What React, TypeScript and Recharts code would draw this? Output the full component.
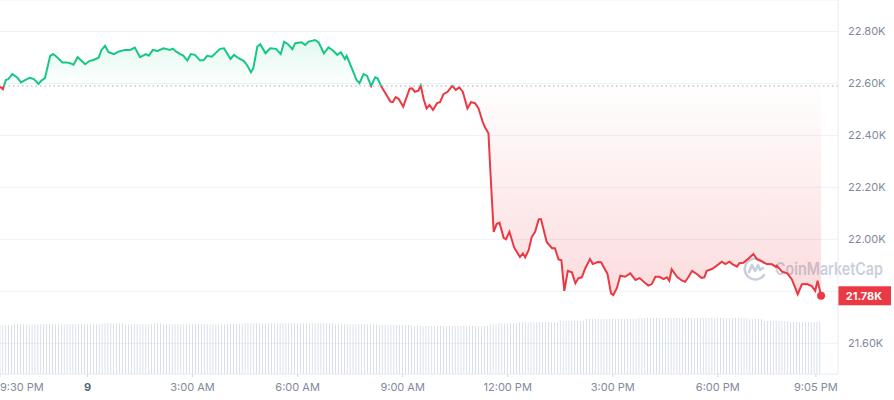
import React from 'react';
import { ComposedChart, Area, Bar, XAxis, YAxis, CartesianGrid, ReferenceLine, ReferenceDot } from 'recharts';

const GREEN = '#16c784';
const RED = '#ea3943';
const TEXT = '#808a9d';
const OPEN_PRICE = 22590;

// minutes after 9:30 PM (previous day)
const PRICE_TIMES = [
  0, 5, 10, 14, 21, 29, 36, 43, 51, 58, 66, 71, 77, 86, 91, 98, 107, 114, 120, 126,
  133, 136, 146, 153, 160, 169, 174, 180, 186, 195, 203, 214, 223, 231, 240, 250, 255, 262, 270, 280,
  286, 291, 296, 302, 309, 314, 321, 327, 334, 343, 349, 355, 363, 377, 384, 395, 401, 409, 418, 424,
  430, 434, 441, 446, 455, 463, 473, 481, 487, 493, 501, 506, 517, 523, 529, 540, 546, 555, 563, 571,
  578, 584, 591, 594, 603, 611, 616, 623, 629, 636, 643, 647, 654, 660, 669, 673, 678, 683, 691, 702,
  706, 711, 717, 721, 726, 731, 736, 742, 749, 754, 760, 767, 775, 781, 787, 793, 801, 807, 814, 820,
  827, 831, 837, 842, 846, 851, 856, 863, 867, 873, 881, 891, 896, 900, 906, 911, 917, 923, 927, 931,
  937, 946, 951, 957, 962, 967, 973, 980, 986, 991, 997, 1003, 1011, 1016, 1024, 1030, 1041, 1047, 1051, 1057,
  1063, 1071, 1080, 1089, 1096, 1103, 1111, 1117, 1123, 1130, 1137, 1143, 1147, 1151, 1160, 1169, 1174, 1180, 1186, 1194,
  1202, 1207, 1211, 1220, 1226, 1237, 1243, 1250, 1255, 1263, 1267, 1274, 1281, 1291, 1297, 1306, 1314, 1323, 1329, 1331,
  1340, 1349, 1357, 1367, 1374, 1383, 1391, 1397, 1401, 1407,
];

const PRICES = [
  22588, 22578, 22613, 22616, 22636, 22624, 22604, 22613, 22622, 22617, 22598, 22611, 22620, 22706, 22713, 22701, 22681, 22681, 22678, 22672,
  22701, 22695, 22674, 22686, 22690, 22699, 22729, 22745, 22720, 22713, 22722, 22729, 22729, 22738, 22701, 22713, 22707, 22729, 22725, 22735,
  22732, 22729, 22734, 22722, 22713, 22707, 22688, 22713, 22710, 22688, 22690, 22706, 22703, 22733, 22735, 22694, 22710, 22697, 22686, 22668,
  22643, 22658, 22742, 22751, 22716, 22735, 22733, 22713, 22760, 22752, 22732, 22755, 22758, 22748, 22761, 22767, 22758, 22716, 22739, 22726,
  22710, 22720, 22694, 22706, 22658, 22613, 22601, 22636, 22629, 22590, 22624, 22620, 22586, 22564, 22530, 22528, 22547, 22541, 22511, 22580,
  22581, 22568, 22572, 22592, 22539, 22504, 22517, 22498, 22524, 22528, 22559, 22568, 22591, 22575, 22585, 22568, 22504, 22528, 22524, 22504,
  22453, 22431, 22408, 22190, 22029, 22059, 22064, 22006, 22000, 22029, 21969, 21932, 21946, 21931, 21959, 22008, 22029, 22077, 22078, 22042,
  21989, 21966, 21966, 21923, 21920, 21802, 21879, 21873, 21831, 21850, 21854, 21889, 21924, 21905, 21913, 21912, 21867, 21792, 21786, 21812,
  21860, 21856, 21869, 21844, 21851, 21837, 21822, 21828, 21856, 21856, 21847, 21854, 21841, 21885, 21856, 21841, 21837, 21856, 21879, 21867,
  21852, 21854, 21879, 21886, 21895, 21914, 21905, 21914, 21905, 21895, 21908, 21910, 21923, 21944, 21924, 21914, 21905, 21904, 21895, 21899,
  21876, 21869, 21846, 21789, 21827, 21828, 21820, 21802, 21841, 21783,
];

// one bar every 5 minutes, one row per hour
const VOLUME_STEP = 5;
const VOLUMES = [
  48.7, 48.7, 48.7, 48.7, 48.7, 49.7, 49.7, 49.7, 49.7, 49.7, 49.7, 49.7,
  49.7, 49.7, 49.7, 49.7, 49.7, 49.7, 49.7, 49.7, 49.7, 49.7, 49.7, 49.7,
  49.7, 49.7, 49.7, 49.7, 49.7, 49.7, 49.7, 49.7, 49.7, 49.7, 49.7, 50.7,
  50.7, 50.7, 50.7, 50.7, 50.7, 50.7, 50.7, 49.7, 49.7, 49.7, 49.7, 49.7,
  49.7, 49.7, 49.7, 49.7, 49.7, 50.7, 50.7, 50.7, 49.7, 49.7, 49.7, 49.7,
  49.7, 49.7, 49.7, 49.7, 49.7, 49.7, 49.7, 49.7, 49.7, 49.7, 49.7, 49.7,
  49.7, 49.7, 49.7, 49.7, 49.7, 49.7, 49.7, 50.3, 50.3, 50.3, 50.3, 50.3,
  50.7, 50.7, 50.7, 50.7, 50.7, 50.7, 50.7, 50.7, 50.7, 50.7, 50.7, 50.7,
  50.7, 50.7, 50.7, 50.7, 50.7, 50.7, 50.7, 50.7, 50.7, 50.7, 50.7, 50.7,
  50.7, 50.7, 50.7, 50.7, 50.7, 50.7, 50.7, 49.7, 49.7, 49.7, 49.7, 49.7,
  49.7, 49.7, 49.7, 49.7, 49.7, 49.7, 49.7, 49.7, 49.7, 49.7, 49, 49,
  49, 49, 49, 49, 49, 49, 49, 49, 49, 49, 48, 48,
  48, 48, 48, 48, 48, 48, 48, 48, 48, 48, 48, 48,
  48, 48, 48, 48, 48, 48, 48, 48, 48, 48, 48, 48,
  49.7, 49.7, 49.7, 50.7, 50.7, 50.7, 50.7, 50.7, 50.7, 50.7, 51.7, 51.7,
  51.7, 51.7, 51.7, 51.7, 51.7, 51.7, 51.7, 51.7, 51.7, 51.7, 51.7, 51.7,
  53.3, 53.3, 53.3, 53.3, 53.3, 53.3, 53.3, 53.3, 53.3, 55, 55, 55,
  55, 55, 55, 55, 55, 55, 55, 55, 55, 55, 55, 55,
  55, 55, 55, 56, 56, 56, 56, 56, 56, 56, 56, 56,
  56, 56, 56, 56, 56, 56, 56, 56, 56, 56, 56, 56,
  56, 56, 56, 56, 56, 56, 56, 56, 56, 56, 56, 56,
  56, 56, 56, 56, 56, 55, 55, 55, 55, 55, 53, 53,
  53, 53, 53, 53, 53, 53, 53, 52, 52, 52, 52, 52,
  52, 52, 52, 52, 52, 52,
];
const VOLUME_AXIS_MAX = 374;

const X_TICKS = [0, 150, 330, 510, 690, 870, 1050, 1230, 1398];
const X_LABELS = ['9:30 PM', '9', '3:00 AM', '6:00 AM', '9:00 AM', '12:00 PM', '3:00 PM', '6:00 PM', '9:05 PM'];
const Y_TICKS = [21600, 21800, 22000, 22200, 22400, 22600, 22800];
const X_DOMAIN = [0, 1436];
const Y_DOMAIN = [21482, 22921];

const LAST_T = PRICE_TIMES[PRICE_TIMES.length - 1];
const LAST_PRICE = PRICES[PRICES.length - 1];

const buildData = () => {
  const map = new Map<number, { t: number; price?: number; volume?: number }>();
  VOLUMES.forEach((v, i) => {
    const t = i * VOLUME_STEP;
    map.set(t, { t, volume: v });
  });
  PRICE_TIMES.forEach((t, i) => {
    const row = map.get(t) || { t };
    row.price = PRICES[i];
    map.set(t, row);
  });
  return Array.from(map.values()).sort((a, b) => a.t - b.t);
};

const data = buildData();
const fmtK = (v: number) => `${(v / 1000).toFixed(2)}K`;
const split = (Y_DOMAIN[1] - OPEN_PRICE) / (Y_DOMAIN[1] - Y_DOMAIN[0]);

const XTick = (props: any) => {
  const { x, y, payload } = props;
  const i = X_TICKS.indexOf(payload.value);
  const bold = X_LABELS[i] === '9';
  return (
    <text
      x={x}
      y={y}
      dy="0.71em"
      textAnchor={i === 0 ? 'start' : 'middle'}
      fill={bold ? '#58667e' : TEXT}
      fontSize={11}
      fontWeight={bold ? 700 : 400}
    >
      {X_LABELS[i]}
    </text>
  );
};

// the price tag covers the axis label next to the last price
const YTick = (props: any) => {
  const { x, y, payload } = props;
  if (Math.abs(payload.value - LAST_PRICE) < 60) return <g />;
  return (
    <text x={x} y={y} dy="0.355em" textAnchor="start" fill={TEXT} fontSize={11}>
      {fmtK(payload.value)}
    </text>
  );
};

const PriceTag = (props: any) => {
  const { viewBox } = props;
  const x = viewBox.x + viewBox.width;
  const y = viewBox.y;
  return (
    <g>
      <rect x={x} y={y - 9.5} width={53} height={19} fill={RED} />
      <text x={x + 26} y={y + 4} textAnchor="middle" fill="#fff" fontSize={11} fontWeight={700}>
        {fmtK(LAST_PRICE)}
      </text>
    </g>
  );
};

const Watermark = () => (
  <svg width={152} height={30} style={{ position: 'absolute', left: 742, top: 254 }}>
    <g fill="none" stroke="#c9d0dc" strokeWidth={2.6} strokeLinecap="round" strokeLinejoin="round">
      <path d="M22 9 A10.5 10.5 0 1 0 22 21" />
      <path d="M7 18 L10 11 L13 17 L16 11 L18 16 L21 14" />
    </g>
    <text x={33} y={21} fill="#c9d0dc" fontSize={17} fontWeight={600} textLength={108} lengthAdjust="spacingAndGlyphs">
      CoinMarketCap
    </text>
  </svg>
);

const App: React.FC = () => {
  return (
    <div style={{ position: 'absolute', left: 0, top: 0, width: 894, height: 400, background: '#fff', fontFamily: 'Inter, sans-serif' }}>
      <Watermark />
      <div style={{ position: 'absolute', left: 0, top: 0 }}>
        <ComposedChart width={894} height={400} data={data} margin={{ top: 0, right: 0, bottom: 0, left: 0 }}>
          <defs>
            <linearGradient id="lineStroke" gradientUnits="userSpaceOnUse" x1={0} y1={0} x2={0} y2={374}>
              <stop offset={0} stopColor={GREEN} />
              <stop offset={split} stopColor={GREEN} />
              <stop offset={split} stopColor={RED} />
              <stop offset={1} stopColor={RED} />
            </linearGradient>
            <linearGradient id="areaFill" gradientUnits="userSpaceOnUse" x1={0} y1={0} x2={0} y2={374}>
              <stop offset={0} stopColor={GREEN} stopOpacity={0.3} />
              <stop offset={split * 0.5} stopColor={GREEN} stopOpacity={0.19} />
              <stop offset={split} stopColor={GREEN} stopOpacity={0.01} />
              <stop offset={split} stopColor={RED} stopOpacity={0.01} />
              <stop offset={1} stopColor={RED} stopOpacity={0.4} />
            </linearGradient>
          </defs>
          <CartesianGrid vertical={false} stroke="#eff2f5" yAxisId="price" />
          <XAxis
            dataKey="t"
            type="number"
            domain={X_DOMAIN}
            ticks={X_TICKS}
            interval={0}
            tick={<XTick />}
            height={26}
            axisLine={{ stroke: '#eef0f4' }}
            tickLine={{ stroke: '#d5dae2' }}
            tickSize={3}
            tickMargin={6}
            allowDataOverflow
          />
          <YAxis
            yAxisId="price"
            orientation="right"
            domain={Y_DOMAIN}
            ticks={Y_TICKS}
            interval={0}
            width={56}
            axisLine={{ stroke: '#e9ecf1' }}
            tickLine={false}
            tickMargin={4}
            tick={<YTick />}
            allowDataOverflow
          />
          <YAxis yAxisId="vol" hide domain={[0, VOLUME_AXIS_MAX]} />
          <Bar yAxisId="vol" dataKey="volume" barSize={1} fill="#b9c4d9" isAnimationActive={false} />
          <Area
            yAxisId="price"
            type="linear"
            dataKey="price"
            baseValue={OPEN_PRICE}
            stroke="url(#lineStroke)"
            strokeWidth={2}
            fill="url(#areaFill)"
            connectNulls
            dot={false}
            activeDot={false}
            isAnimationActive={false}
          />
          <ReferenceLine yAxisId="price" y={OPEN_PRICE} stroke="#a7afbd" strokeDasharray="1.5 3" />
          <ReferenceLine yAxisId="price" y={LAST_PRICE} stroke="none" label={PriceTag} />
          <ReferenceDot yAxisId="price" x={LAST_T} y={LAST_PRICE} r={4} fill={RED} stroke="none" />
        </ComposedChart>
      </div>
    </div>
  );
};

export default App;
